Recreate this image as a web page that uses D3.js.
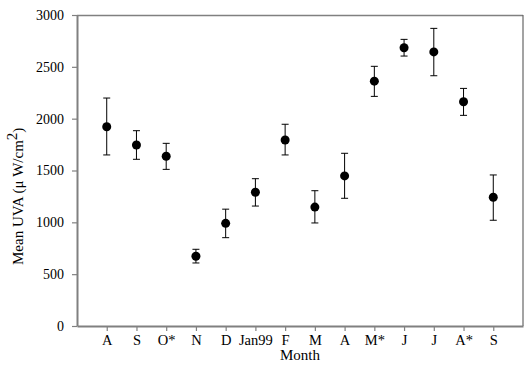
<!DOCTYPE html>
<html>
<head>
<meta charset="utf-8">
<script src="https://cdn.jsdelivr.net/npm/d3@7"></script>
<style>
  body { margin: 0; background: #fff; }
  text { font-family: "Liberation Serif", "Times New Roman", serif; fill: #000; }
</style>
</head>
<body>
<svg class="chart"></svg>
<script>
const months = ["A", "S", "O*", "N", "D", "Jan99", "F", "M", "A", "M*", "J", "J", "A*", "S"];
const meanUVA = [1922, 1746, 1638, 673, 990, 1290, 1794, 1147, 1448, 2362, 2684, 2644, 2163, 1242];
const errUpper = [2199, 1884, 1762, 740, 1127, 1421, 1946, 1305, 1666, 2505, 2765, 2871, 2292, 1457];
const errLower = [1650, 1608, 1511, 608, 852, 1157, 1650, 994, 1232, 2215, 2604, 2414, 2032, 1020];
const yTicks = [0, 500, 1000, 1500, 2000, 2500, 3000];

const canvas = {width: 530, height: 372};
const margin = {top: 15, bottom: 46, right: 7, left: 77};
const chart_dimensions = {
    width: canvas.width - (margin.right + margin.left),
    height: canvas.height - (margin.top + margin.bottom)
};

const svg = d3.select(".chart")
    .attr("width", canvas.width)
    .attr("height", canvas.height);

const x_month = d3.scaleLinear().domain([-1, 14]).range([0, chart_dimensions.width]);
const y_uva = d3.scaleLinear().domain([0, 3000]).range([chart_dimensions.height, 0]);

const chart = svg.append("g")
    .attr("transform", "translate(" + margin.left + "," + margin.top + ")");

// frame: top and right
chart.append("line")
    .attr("x1", 0).attr("x2", chart_dimensions.width)
    .attr("y1", 0.5).attr("y2", 0.5)
    .attr("stroke", "#808080").attr("stroke-width", 1.5);
chart.append("line")
    .attr("x1", chart_dimensions.width).attr("x2", chart_dimensions.width)
    .attr("y1", 0).attr("y2", chart_dimensions.height)
    .attr("stroke", "#666").attr("stroke-width", 1.2);

const yAxis = d3.axisLeft(y_uva).tickValues(yTicks).tickFormat(d3.format("d"))
    .tickSize(5).tickPadding(8).tickSizeOuter(0);
const yG = chart.append("g").call(yAxis);
yG.select(".domain").attr("stroke", "#808080").attr("stroke-width", 2);
yG.selectAll(".tick line").attr("stroke", "#808080").attr("stroke-width", 1.2);
yG.selectAll("text").style("font-family", "Liberation Serif, serif").style("font-size", "14px").attr("fill", "#000");

const xAxis = d3.axisBottom(x_month)
    .tickValues(d3.range(months.length))
    .tickFormat(function (i) { return months[i]; })
    .tickSize(5).tickPadding(4).tickSizeOuter(0);
const xG = chart.append("g")
    .attr("transform", "translate(0," + chart_dimensions.height + ")")
    .call(xAxis);
xG.select(".domain").attr("stroke", "#808080").attr("stroke-width", 2);
xG.selectAll(".tick line").attr("stroke", "#808080").attr("stroke-width", 1.2);
xG.selectAll("text").style("font-family", "Liberation Serif, serif").style("font-size", "14.5px").attr("fill", "#000");

// error bars
const bars = chart.selectAll(".err")
    .data(months)
    .enter()
    .append("g")
    .classed("err", true);

bars.append("line")
    .attr("x1", function (d, i) { return x_month(i); })
    .attr("x2", function (d, i) { return x_month(i); })
    .attr("y1", function (d, i) { return y_uva(errUpper[i]); })
    .attr("y2", function (d, i) { return y_uva(errLower[i]); })
    .attr("stroke", "#000").attr("stroke-width", 1);

bars.append("line")
    .attr("x1", function (d, i) { return x_month(i) - 3.5; })
    .attr("x2", function (d, i) { return x_month(i) + 3.5; })
    .attr("y1", function (d, i) { return y_uva(errUpper[i]); })
    .attr("y2", function (d, i) { return y_uva(errUpper[i]); })
    .attr("stroke", "#000").attr("stroke-width", 1);

bars.append("line")
    .attr("x1", function (d, i) { return x_month(i) - 3.5; })
    .attr("x2", function (d, i) { return x_month(i) + 3.5; })
    .attr("y1", function (d, i) { return y_uva(errLower[i]); })
    .attr("y2", function (d, i) { return y_uva(errLower[i]); })
    .attr("stroke", "#000").attr("stroke-width", 1);

bars.append("circle")
    .attr("cx", function (d, i) { return x_month(i); })
    .attr("cy", function (d, i) { return y_uva(meanUVA[i]); })
    .attr("r", 4.5)
    .attr("fill", "#000");

// axis titles
svg.append("text")
    .attr("x", 300)
    .attr("y", 360)
    .style("text-anchor", "middle")
    .style("font-size", "15px")
    .text("Month");

const yLabel = svg.append("text")
    .attr("transform", "translate(23,265) rotate(-90)")
    .style("text-anchor", "start")
    .style("font-size", "15px");
yLabel.append("tspan").text("Mean UVA (\u03bc W/cm");
yLabel.append("tspan").attr("dy", "-6").text("2");
yLabel.append("tspan").attr("dy", "6").text(")");
</script>
</body>
</html>
